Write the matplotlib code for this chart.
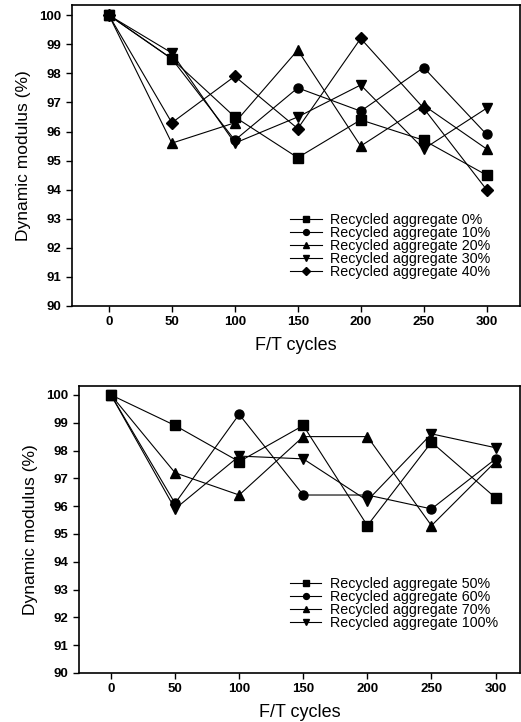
import matplotlib
matplotlib.use("Agg")
import matplotlib.pyplot as plt

plt.rcParams['font.family'] = ['Liberation Sans', 'DejaVu Sans']

cycles = [0, 50, 100, 150, 200, 250, 300]

# Top panel
ra0 = [100, 98.5, 96.5, 95.1, 96.4, 95.7, 94.5]
ra10 = [100, 98.5, 95.7, 97.5, 96.7, 98.2, 95.9]
ra20 = [100, 95.6, 96.3, 98.8, 95.5, 96.9, 95.4]
ra30 = [100, 98.7, 95.6, 96.5, 97.6, 95.4, 96.8]
ra40 = [100, 96.3, 97.9, 96.1, 99.2, 96.8, 94.0]
top_labels = ["Recycled aggregate 0%", "Recycled aggregate 10%", "Recycled aggregate 20%",
              "Recycled aggregate 30%", "Recycled aggregate 40%"]

# Bottom panel
ra50 = [100, 98.9, 97.6, 98.9, 95.3, 98.3, 96.3]
ra60 = [100, 96.1, 99.3, 96.4, 96.4, 95.9, 97.7]
ra70 = [100, 97.2, 96.4, 98.5, 98.5, 95.3, 97.6]
ra100 = [100, 95.9, 97.8, 97.7, 96.2, 98.6, 98.1]
bot_labels = ["Recycled aggregate 50%", "Recycled aggregate 60%", "Recycled aggregate 70%",
              "Recycled aggregate 100%"]

yticks = [90, 91, 92, 93, 94, 95, 96, 97, 98, 99, 100]

fig = plt.figure(figsize=(5.21, 7.22), dpi=100)
ax1 = fig.add_axes([72/521, 1-306/722, 1-72/521-0.002, (306-5)/722])
ax2 = fig.add_axes([79/521, 1-673/722, 1-79/521-0.002, (673-386)/722])

markers = ['s', 'o', '^', 'v', 'D']

def style(ax, xlim, ytop):
    ax.set_xlim(*xlim)
    ax.set_ylim(90, ytop)
    ax.set_xticks(cycles)
    ax.set_yticks(yticks)
    ax.tick_params(direction='out', length=4, width=1, labelsize=9.5)
    for lab in ax.get_xticklabels() + ax.get_yticklabels():
        lab.set_fontweight('bold')
    for s in ax.spines.values():
        s.set_linewidth(1.2)
    ax.set_xlabel("F/T cycles", fontsize=13, labelpad=6)
    ax.set_ylabel("Dynamic modulus (%)", fontsize=12.5, labelpad=6)

for data, m, lab in zip([ra0, ra10, ra20, ra30, ra40], markers, top_labels):
    ax1.plot(cycles, data, color='black', lw=0.8, marker=m,
             markersize=6.5 if m != 'D' else 6, label=lab)
style(ax1, (-29.3, 326.5), 100.35)
ax1.legend(loc='upper left', bbox_to_anchor=(0.471, 0.332), frameon=False, fontsize=10.3,
           handlelength=2.2, handletextpad=0.6, labelspacing=-0.07, borderpad=0,
           markerscale=0.65)

for data, m, lab in zip([ra50, ra60, ra70, ra100], markers, bot_labels):
    ax2.plot(cycles, data, color='black', lw=0.8, marker=m, markersize=6.5, label=lab)
style(ax2, (-24.9, 319), 100.32)
ax2.legend(loc='upper left', bbox_to_anchor=(0.462, 0.36), frameon=False, fontsize=10.3,
           handlelength=2.2, handletextpad=0.6, labelspacing=-0.07, borderpad=0,
           markerscale=0.65)

fig.savefig("out.png", dpi=100)
